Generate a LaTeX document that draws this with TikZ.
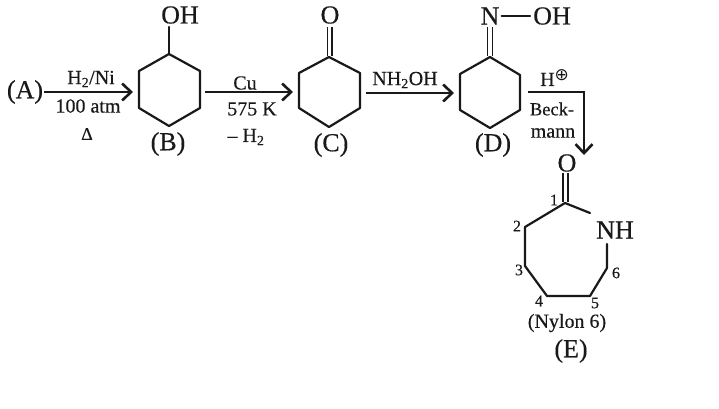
\documentclass[tikz,border=0pt]{standalone}
\usepackage{fontspec}
\setmainfont{Liberation Serif}[FakeBold=0.35]
\newfontfamily\symf{DejaVu Sans}
\usetikzlibrary{arrows.meta}
\newcommand{\fs}[1]{\fontsize{#1}{#1}\selectfont}
\newcommand{\sub}[1]{\textsubscript{#1}}
\tikzset{
  bond/.style={line width=2.2pt,line join=round,line cap=round,black!90},
  dbl/.style={line width=1.7pt,black!90},
  rxn/.style={line width=2.3pt,black!90,-{Straight Barb[length=9pt,width=17pt,line width=2.6pt]}},
  atom/.style={inner sep=0pt,font=\fs{26},text=black!90},
  lab/.style={inner sep=0pt,font=\fs{20},text=black!90},
  num/.style={inner sep=0pt,font=\fs{16},text=black!90}
}
\begin{document}
\begin{tikzpicture}[x=1pt,y=-1pt]
\useasboundingbox[fill=white] (0,0) rectangle (719,408);
% A -> B
\node[atom] (A) at (25,92) {(A)};
\coordinate (b1) at (169,54);
\coordinate (b2) at (200,71);
\coordinate (b3) at (200,108);
\coordinate (b4) at (169,126);
\coordinate (b5) at (139,108);
\coordinate (b6) at (139,71);
\draw[bond] (b1)--(b2)--(b3)--(b4)--(b5)--(b6)--cycle;
\node[atom] (OHb) at (180,15) {OH};
\draw[bond] (b1) -- (169,27);
\coordinate (a1e) at (133,92);
\draw[rxn] (A.east) ++(1,0) -- (a1e);
\node[lab] (l1) at (91,79) {H\sub{2}/Ni};
\node[lab] (l2) at (88,106) {100 atm};
\node[lab,font=\fs{18}] (l3) at (87,134) {Δ};
\node[atom] (Bl) at (168,144) {(B)};
% B -> C
\coordinate (a2s) at (205,92);
\coordinate (a2e) at (293,92);
\draw[rxn] (a2s) -- (a2e);
\node[lab] (l4) at (245,83) {Cu};
\node[lab] (l5) at (252,109) {575 K};
\node[lab] (l6) at (246,137) {-- H\sub{2}};
\coordinate (c1) at (329,57);
\coordinate (c2) at (360,73);
\coordinate (c3) at (360,108);
\coordinate (c4) at (329,127);
\coordinate (c5) at (299,108);
\coordinate (c6) at (299,73);
\draw[bond] (c1)--(c2)--(c3)--(c4)--(c5)--(c6)--cycle;
\node[atom] (Oc) at (330,15) {O};
\draw[dbl] (327.5,56) -- (327.5,27) (332,56) -- (332,27);
\node[atom] (Cl) at (331,145) {(C)};
% C -> D
\coordinate (a3s) at (366,93);
\coordinate (a3e) at (454,93);
\draw[rxn] (a3s) -- (a3e);
\node[lab] (l7) at (405,80) {NH\sub{2}OH};
\coordinate (d1) at (490,57);
\coordinate (d2) at (520,75);
\coordinate (d3) at (520,110);
\coordinate (d4) at (490,128);
\coordinate (d5) at (460,110);
\coordinate (d6) at (460,74);
\draw[bond] (d1)--(d2)--(d3)--(d4)--(d5)--(d6)--cycle;
\node[atom] (N) at (490,16) {N};
\node[atom] (OHd) at (552,16) {OH};
\draw[bond] (N.east) ++(2,0) -- ([xshift=-3pt]OHd.west);
\draw[dbl] (487.5,56) -- (487.5,27) (492.5,56) -- (492.5,27);
\node[atom] (Dl) at (493,145) {(D)};
% D -> E
\coordinate (a4s) at (528,92);
\coordinate (a4c) at (584,92);
\coordinate (a4e) at (584,155);
\draw[rxn] (a4s) -- (a4c) -- (a4e);
\node[lab,anchor=west] (l8) at (540,78) {H\raisebox{5pt}{\symf\fs{17}⊕}};
\node[lab,font=\fs{18.5}] (l9) at (552,109) {Beck-};
\node[lab] (l10) at (553,133) {mann};
% E
\coordinate (e1) at (565,203);
\coordinate (e2) at (525,227);
\coordinate (e3) at (525,266);
\coordinate (e4) at (547,296);
\coordinate (e5) at (590,296);
\coordinate (e6) at (607,268);
\node[atom] (NH) at (615,230) {NH};
\node[atom] (Oe) at (567,163) {O};
\draw[bond] (590,213) -- (e1) -- (e2) -- (e3) -- (e4) -- (e5) -- (e6) -- (607,244);
\draw[dbl] (563,202) -- (563,173) (568,202) -- (568,173);
\node[num] (n1) at (554,200) {1};
\node[num] (n2) at (517,226) {2};
\node[num] (n3) at (519,270) {3};
\node[num] (n4) at (539,301) {4};
\node[num] (n5) at (595,303) {5};
\node[num] (n6) at (616,273) {6};
\node[lab] (ny) at (567,323) {(Nylon 6)};
\node[atom] (El) at (571,351) {(E)};
\end{tikzpicture}
\end{document}
